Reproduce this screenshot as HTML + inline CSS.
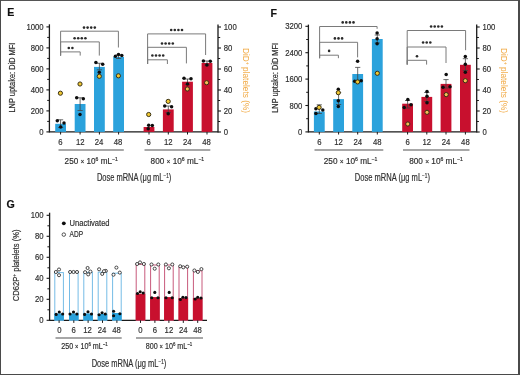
<!DOCTYPE html>
<html><head><meta charset="utf-8"><style>
html,body{margin:0;padding:0;background:#fff;}
body{width:520px;height:375px;overflow:hidden;position:relative;}
svg{display:block;font-family:"Liberation Sans", sans-serif;filter:blur(0.35px);}
text{stroke:currentColor;stroke-width:0.18px;}
text.rt{stroke-width:0;}
</style></head><body>
<svg width="520" height="375" viewBox="0 0 520 375">
<rect x="0" y="0" width="520" height="375" fill="#fff"/>
<text x="7.2" y="16.4" font-size="10.6" text-anchor="start" fill="#111" color="#111" font-weight="bold">E</text>
<text x="270.6" y="16.8" font-size="10.6" text-anchor="start" fill="#111" color="#111" font-weight="bold">F</text>
<text x="6.6" y="208.1" font-size="10.6" text-anchor="start" fill="#111" color="#111" font-weight="bold">G</text>
<line x1="49.4" y1="24.3" x2="49.4" y2="132.5" stroke="#1a1a1a" stroke-width="1.3"/>
<line x1="46.4" y1="131.9" x2="49.4" y2="131.9" stroke="#1a1a1a" stroke-width="1.1"/>
<text x="43.6" y="134.9" font-size="9.0" text-anchor="end" fill="#2e2e2e" color="#2e2e2e" font-weight="normal" textLength="4.3" lengthAdjust="spacingAndGlyphs">0</text>
<line x1="46.4" y1="110.9" x2="49.4" y2="110.9" stroke="#1a1a1a" stroke-width="1.1"/>
<text x="43.6" y="113.9" font-size="9.0" text-anchor="end" fill="#2e2e2e" color="#2e2e2e" font-weight="normal" textLength="12.91" lengthAdjust="spacingAndGlyphs">200</text>
<line x1="46.4" y1="89.9" x2="49.4" y2="89.9" stroke="#1a1a1a" stroke-width="1.1"/>
<text x="43.6" y="92.9" font-size="9.0" text-anchor="end" fill="#2e2e2e" color="#2e2e2e" font-weight="normal" textLength="12.91" lengthAdjust="spacingAndGlyphs">400</text>
<line x1="46.4" y1="68.9" x2="49.4" y2="68.9" stroke="#1a1a1a" stroke-width="1.1"/>
<text x="43.6" y="71.9" font-size="9.0" text-anchor="end" fill="#2e2e2e" color="#2e2e2e" font-weight="normal" textLength="12.91" lengthAdjust="spacingAndGlyphs">600</text>
<line x1="46.4" y1="47.900000000000006" x2="49.4" y2="47.900000000000006" stroke="#1a1a1a" stroke-width="1.1"/>
<text x="43.6" y="50.9" font-size="9.0" text-anchor="end" fill="#2e2e2e" color="#2e2e2e" font-weight="normal" textLength="12.91" lengthAdjust="spacingAndGlyphs">800</text>
<line x1="46.4" y1="26.900000000000006" x2="49.4" y2="26.900000000000006" stroke="#1a1a1a" stroke-width="1.1"/>
<text x="43.6" y="29.9" font-size="9.0" text-anchor="end" fill="#2e2e2e" color="#2e2e2e" font-weight="normal" textLength="17.22" lengthAdjust="spacingAndGlyphs">1000</text>
<line x1="47.199999999999996" y1="121.4" x2="49.4" y2="121.4" stroke="#1a1a1a" stroke-width="1.0"/>
<line x1="47.199999999999996" y1="100.4" x2="49.4" y2="100.4" stroke="#1a1a1a" stroke-width="1.0"/>
<line x1="47.199999999999996" y1="79.4" x2="49.4" y2="79.4" stroke="#1a1a1a" stroke-width="1.0"/>
<line x1="47.199999999999996" y1="58.400000000000006" x2="49.4" y2="58.400000000000006" stroke="#1a1a1a" stroke-width="1.0"/>
<line x1="47.199999999999996" y1="37.400000000000006" x2="49.4" y2="37.400000000000006" stroke="#1a1a1a" stroke-width="1.0"/>
<line x1="218.0" y1="24.5" x2="218.0" y2="132.5" stroke="#1a1a1a" stroke-width="1.3"/>
<line x1="218.0" y1="132.0" x2="221.0" y2="132.0" stroke="#1a1a1a" stroke-width="1.1"/>
<text x="223.8" y="135.0" font-size="9.0" text-anchor="start" fill="#2e2e2e" color="#2e2e2e" font-weight="normal" textLength="4.3" lengthAdjust="spacingAndGlyphs">0</text>
<line x1="218.0" y1="111.0" x2="221.0" y2="111.0" stroke="#1a1a1a" stroke-width="1.1"/>
<text x="223.8" y="114.0" font-size="9.0" text-anchor="start" fill="#2e2e2e" color="#2e2e2e" font-weight="normal" textLength="8.61" lengthAdjust="spacingAndGlyphs">20</text>
<line x1="218.0" y1="90.0" x2="221.0" y2="90.0" stroke="#1a1a1a" stroke-width="1.1"/>
<text x="223.8" y="93.0" font-size="9.0" text-anchor="start" fill="#2e2e2e" color="#2e2e2e" font-weight="normal" textLength="8.61" lengthAdjust="spacingAndGlyphs">40</text>
<line x1="218.0" y1="69.0" x2="221.0" y2="69.0" stroke="#1a1a1a" stroke-width="1.1"/>
<text x="223.8" y="72.0" font-size="9.0" text-anchor="start" fill="#2e2e2e" color="#2e2e2e" font-weight="normal" textLength="8.61" lengthAdjust="spacingAndGlyphs">60</text>
<line x1="218.0" y1="48.0" x2="221.0" y2="48.0" stroke="#1a1a1a" stroke-width="1.1"/>
<text x="223.8" y="51.0" font-size="9.0" text-anchor="start" fill="#2e2e2e" color="#2e2e2e" font-weight="normal" textLength="8.61" lengthAdjust="spacingAndGlyphs">80</text>
<line x1="218.0" y1="27.0" x2="221.0" y2="27.0" stroke="#1a1a1a" stroke-width="1.1"/>
<text x="223.8" y="30.0" font-size="9.0" text-anchor="start" fill="#2e2e2e" color="#2e2e2e" font-weight="normal" textLength="12.91" lengthAdjust="spacingAndGlyphs">100</text>
<line x1="218.0" y1="121.5" x2="220.2" y2="121.5" stroke="#1a1a1a" stroke-width="1.0"/>
<line x1="218.0" y1="100.5" x2="220.2" y2="100.5" stroke="#1a1a1a" stroke-width="1.0"/>
<line x1="218.0" y1="79.5" x2="220.2" y2="79.5" stroke="#1a1a1a" stroke-width="1.0"/>
<line x1="218.0" y1="58.5" x2="220.2" y2="58.5" stroke="#1a1a1a" stroke-width="1.0"/>
<line x1="218.0" y1="37.5" x2="220.2" y2="37.5" stroke="#1a1a1a" stroke-width="1.0"/>
<line x1="49.4" y1="131.9" x2="218.0" y2="131.9" stroke="#1a1a1a" stroke-width="1.3"/>
<rect x="55.2" y="123.8" width="10.8" height="8.1" fill="#2ba2dc" stroke="none" stroke-width="0"/>
<rect x="74.7" y="104.0" width="10.8" height="27.9" fill="#2ba2dc" stroke="none" stroke-width="0"/>
<rect x="94.0" y="66.9" width="10.8" height="65.0" fill="#2ba2dc" stroke="none" stroke-width="0"/>
<rect x="113.2" y="57.0" width="10.8" height="74.9" fill="#2ba2dc" stroke="none" stroke-width="0"/>
<rect x="143.6" y="127.0" width="10.8" height="4.9" fill="#c8102e" stroke="none" stroke-width="0"/>
<rect x="162.9" y="109.4" width="10.8" height="22.5" fill="#c8102e" stroke="none" stroke-width="0"/>
<rect x="182.1" y="81.7" width="10.8" height="50.2" fill="#c8102e" stroke="none" stroke-width="0"/>
<rect x="201.6" y="63.0" width="10.8" height="68.9" fill="#c8102e" stroke="none" stroke-width="0"/>
<line x1="60.6" y1="119.8" x2="60.6" y2="127.5" stroke="#444" stroke-width="0.8"/>
<line x1="58.0" y1="119.8" x2="63.2" y2="119.8" stroke="#444" stroke-width="0.8"/>
<line x1="58.0" y1="127.5" x2="63.2" y2="127.5" stroke="#444" stroke-width="0.8"/>
<circle cx="57.3" cy="120.7" r="1.75" fill="#0d0d0d" stroke="none" stroke-width="0"/>
<circle cx="64.0" cy="123.0" r="1.75" fill="#0d0d0d" stroke="none" stroke-width="0"/>
<circle cx="60.7" cy="127.0" r="1.75" fill="#0d0d0d" stroke="none" stroke-width="0"/>
<circle cx="60.4" cy="93.2" r="2.1" fill="#f1c832" stroke="#3a3214" stroke-width="1.0"/>
<line x1="60.6" y1="131.9" x2="60.6" y2="134.5" stroke="#1a1a1a" stroke-width="1"/>
<line x1="80.1" y1="97.8" x2="80.1" y2="110.5" stroke="#444" stroke-width="0.8"/>
<line x1="77.5" y1="97.8" x2="82.69999999999999" y2="97.8" stroke="#444" stroke-width="0.8"/>
<line x1="77.5" y1="110.5" x2="82.69999999999999" y2="110.5" stroke="#444" stroke-width="0.8"/>
<circle cx="76.7" cy="97.7" r="1.75" fill="#0d0d0d" stroke="none" stroke-width="0"/>
<circle cx="83.3" cy="98.7" r="1.75" fill="#0d0d0d" stroke="none" stroke-width="0"/>
<circle cx="80.0" cy="114.6" r="1.75" fill="#0d0d0d" stroke="none" stroke-width="0"/>
<circle cx="80.0" cy="84.0" r="2.1" fill="#f1c832" stroke="#3a3214" stroke-width="1.0"/>
<line x1="80.1" y1="131.9" x2="80.1" y2="134.5" stroke="#1a1a1a" stroke-width="1"/>
<line x1="99.4" y1="63.3" x2="99.4" y2="69.8" stroke="#444" stroke-width="0.8"/>
<line x1="96.80000000000001" y1="63.3" x2="102.0" y2="63.3" stroke="#444" stroke-width="0.8"/>
<line x1="96.80000000000001" y1="69.8" x2="102.0" y2="69.8" stroke="#444" stroke-width="0.8"/>
<circle cx="95.9" cy="62.5" r="1.75" fill="#0d0d0d" stroke="none" stroke-width="0"/>
<circle cx="102.7" cy="64.3" r="1.75" fill="#0d0d0d" stroke="none" stroke-width="0"/>
<circle cx="99.3" cy="72.2" r="1.75" fill="#0d0d0d" stroke="none" stroke-width="0"/>
<circle cx="99.3" cy="76.3" r="2.1" fill="#f1c832" stroke="#3a3214" stroke-width="1.0"/>
<line x1="99.4" y1="131.9" x2="99.4" y2="134.5" stroke="#1a1a1a" stroke-width="1"/>
<line x1="118.6" y1="55.0" x2="118.6" y2="58.5" stroke="#444" stroke-width="0.8"/>
<line x1="116.0" y1="55.0" x2="121.19999999999999" y2="55.0" stroke="#444" stroke-width="0.8"/>
<line x1="116.0" y1="58.5" x2="121.19999999999999" y2="58.5" stroke="#444" stroke-width="0.8"/>
<circle cx="115.4" cy="56.3" r="1.75" fill="#0d0d0d" stroke="none" stroke-width="0"/>
<circle cx="118.5" cy="54.6" r="1.75" fill="#0d0d0d" stroke="none" stroke-width="0"/>
<circle cx="121.8" cy="55.4" r="1.75" fill="#0d0d0d" stroke="none" stroke-width="0"/>
<circle cx="118.4" cy="75.8" r="2.1" fill="#f1c832" stroke="#3a3214" stroke-width="1.0"/>
<line x1="118.6" y1="131.9" x2="118.6" y2="134.5" stroke="#1a1a1a" stroke-width="1"/>
<circle cx="148.2" cy="128.8" r="1.75" fill="#0d0d0d" stroke="none" stroke-width="0"/>
<circle cx="148.7" cy="125.3" r="1.75" fill="#0d0d0d" stroke="none" stroke-width="0"/>
<circle cx="152.3" cy="125.4" r="1.75" fill="#0d0d0d" stroke="none" stroke-width="0"/>
<circle cx="148.7" cy="114.5" r="2.1" fill="#f1c832" stroke="#3a3214" stroke-width="1.0"/>
<line x1="149.0" y1="131.9" x2="149.0" y2="134.5" stroke="#1a1a1a" stroke-width="1"/>
<line x1="168.3" y1="106.0" x2="168.3" y2="112.5" stroke="#444" stroke-width="0.8"/>
<line x1="165.70000000000002" y1="106.0" x2="170.9" y2="106.0" stroke="#444" stroke-width="0.8"/>
<line x1="165.70000000000002" y1="112.5" x2="170.9" y2="112.5" stroke="#444" stroke-width="0.8"/>
<circle cx="164.7" cy="106.0" r="1.75" fill="#0d0d0d" stroke="none" stroke-width="0"/>
<circle cx="171.6" cy="106.7" r="1.75" fill="#0d0d0d" stroke="none" stroke-width="0"/>
<circle cx="168.2" cy="113.7" r="1.75" fill="#0d0d0d" stroke="none" stroke-width="0"/>
<circle cx="168.2" cy="101.4" r="2.1" fill="#f1c832" stroke="#3a3214" stroke-width="1.0"/>
<line x1="168.3" y1="131.9" x2="168.3" y2="134.5" stroke="#1a1a1a" stroke-width="1"/>
<line x1="187.5" y1="79.0" x2="187.5" y2="84.5" stroke="#444" stroke-width="0.8"/>
<line x1="184.9" y1="79.0" x2="190.1" y2="79.0" stroke="#444" stroke-width="0.8"/>
<line x1="184.9" y1="84.5" x2="190.1" y2="84.5" stroke="#444" stroke-width="0.8"/>
<circle cx="184.0" cy="78.3" r="1.75" fill="#0d0d0d" stroke="none" stroke-width="0"/>
<circle cx="191.0" cy="78.7" r="1.75" fill="#0d0d0d" stroke="none" stroke-width="0"/>
<circle cx="187.5" cy="84.0" r="1.75" fill="#0d0d0d" stroke="none" stroke-width="0"/>
<circle cx="187.3" cy="89.0" r="2.1" fill="#f6bd55" stroke="#3a3214" stroke-width="1.0"/>
<line x1="187.5" y1="131.9" x2="187.5" y2="134.5" stroke="#1a1a1a" stroke-width="1"/>
<line x1="207.0" y1="61.0" x2="207.0" y2="65.0" stroke="#444" stroke-width="0.8"/>
<line x1="204.4" y1="61.0" x2="209.6" y2="61.0" stroke="#444" stroke-width="0.8"/>
<line x1="204.4" y1="65.0" x2="209.6" y2="65.0" stroke="#444" stroke-width="0.8"/>
<circle cx="203.4" cy="61.0" r="1.75" fill="#0d0d0d" stroke="none" stroke-width="0"/>
<circle cx="210.3" cy="61.3" r="1.75" fill="#0d0d0d" stroke="none" stroke-width="0"/>
<circle cx="206.9" cy="65.0" r="1.75" fill="#0d0d0d" stroke="none" stroke-width="0"/>
<circle cx="206.6" cy="82.7" r="2.1" fill="#f6bd55" stroke="#3a3214" stroke-width="1.0"/>
<line x1="207.0" y1="131.9" x2="207.0" y2="134.5" stroke="#1a1a1a" stroke-width="1"/>
<polyline points="60.6,55.6 60.6,31.2 118.4,31.2 118.4,47.5" fill="none" stroke="#7a7a7a" stroke-width="1"/>
<polyline points="60.6,55.6 60.6,41.9 99.3,41.9 99.3,55.6" fill="none" stroke="#7a7a7a" stroke-width="1"/>
<polyline points="60.6,55.6 60.6,51.9 80.2,51.9 80.2,55.6" fill="none" stroke="#7a7a7a" stroke-width="1"/>
<circle cx="84.0" cy="27.6" r="1.3" fill="#2a2a2a" stroke="none" stroke-width="0"/>
<circle cx="87.6" cy="27.6" r="1.3" fill="#2a2a2a" stroke="none" stroke-width="0"/>
<circle cx="91.2" cy="27.6" r="1.3" fill="#2a2a2a" stroke="none" stroke-width="0"/>
<circle cx="94.8" cy="27.6" r="1.3" fill="#2a2a2a" stroke="none" stroke-width="0"/>
<circle cx="74.6" cy="38.2" r="1.3" fill="#2a2a2a" stroke="none" stroke-width="0"/>
<circle cx="78.2" cy="38.2" r="1.3" fill="#2a2a2a" stroke="none" stroke-width="0"/>
<circle cx="81.8" cy="38.2" r="1.3" fill="#2a2a2a" stroke="none" stroke-width="0"/>
<circle cx="85.4" cy="38.2" r="1.3" fill="#2a2a2a" stroke="none" stroke-width="0"/>
<circle cx="68.8" cy="48.0" r="1.3" fill="#2a2a2a" stroke="none" stroke-width="0"/>
<circle cx="72.4" cy="48.0" r="1.3" fill="#2a2a2a" stroke="none" stroke-width="0"/>
<polyline points="147.6,64.0 147.6,33.9 205.6,33.9 205.6,55.0" fill="none" stroke="#7a7a7a" stroke-width="1"/>
<polyline points="147.6,64.0 147.6,47.3 186.4,47.3 186.4,63.4" fill="none" stroke="#7a7a7a" stroke-width="1"/>
<polyline points="147.6,64.0 147.6,59.8 167.4,59.8 167.4,64.0" fill="none" stroke="#7a7a7a" stroke-width="1"/>
<circle cx="171.2" cy="30.0" r="1.3" fill="#2a2a2a" stroke="none" stroke-width="0"/>
<circle cx="174.8" cy="30.0" r="1.3" fill="#2a2a2a" stroke="none" stroke-width="0"/>
<circle cx="178.4" cy="30.0" r="1.3" fill="#2a2a2a" stroke="none" stroke-width="0"/>
<circle cx="182.0" cy="30.0" r="1.3" fill="#2a2a2a" stroke="none" stroke-width="0"/>
<circle cx="162.0" cy="43.5" r="1.3" fill="#2a2a2a" stroke="none" stroke-width="0"/>
<circle cx="165.6" cy="43.5" r="1.3" fill="#2a2a2a" stroke="none" stroke-width="0"/>
<circle cx="169.2" cy="43.5" r="1.3" fill="#2a2a2a" stroke="none" stroke-width="0"/>
<circle cx="172.8" cy="43.5" r="1.3" fill="#2a2a2a" stroke="none" stroke-width="0"/>
<circle cx="152.4" cy="55.5" r="1.3" fill="#2a2a2a" stroke="none" stroke-width="0"/>
<circle cx="156.0" cy="55.5" r="1.3" fill="#2a2a2a" stroke="none" stroke-width="0"/>
<circle cx="159.6" cy="55.5" r="1.3" fill="#2a2a2a" stroke="none" stroke-width="0"/>
<circle cx="163.2" cy="55.5" r="1.3" fill="#2a2a2a" stroke="none" stroke-width="0"/>
<text x="60.5" y="145.2" font-size="9.0" text-anchor="middle" fill="#2e2e2e" color="#2e2e2e" font-weight="normal" textLength="4.3" lengthAdjust="spacingAndGlyphs">6</text>
<text x="80.2" y="145.2" font-size="9.0" text-anchor="middle" fill="#2e2e2e" color="#2e2e2e" font-weight="normal" textLength="8.61" lengthAdjust="spacingAndGlyphs">12</text>
<text x="99.0" y="145.2" font-size="9.0" text-anchor="middle" fill="#2e2e2e" color="#2e2e2e" font-weight="normal" textLength="8.61" lengthAdjust="spacingAndGlyphs">24</text>
<text x="118.1" y="145.2" font-size="9.0" text-anchor="middle" fill="#2e2e2e" color="#2e2e2e" font-weight="normal" textLength="8.61" lengthAdjust="spacingAndGlyphs">48</text>
<text x="148.7" y="145.2" font-size="9.0" text-anchor="middle" fill="#2e2e2e" color="#2e2e2e" font-weight="normal" textLength="4.3" lengthAdjust="spacingAndGlyphs">6</text>
<text x="168.3" y="145.2" font-size="9.0" text-anchor="middle" fill="#2e2e2e" color="#2e2e2e" font-weight="normal" textLength="8.61" lengthAdjust="spacingAndGlyphs">12</text>
<text x="187.2" y="145.2" font-size="9.0" text-anchor="middle" fill="#2e2e2e" color="#2e2e2e" font-weight="normal" textLength="8.61" lengthAdjust="spacingAndGlyphs">24</text>
<text x="206.6" y="145.2" font-size="9.0" text-anchor="middle" fill="#2e2e2e" color="#2e2e2e" font-weight="normal" textLength="8.61" lengthAdjust="spacingAndGlyphs">48</text>
<line x1="58.5" y1="150.0" x2="123.8" y2="150.0" stroke="#8a8a8a" stroke-width="1.6"/>
<line x1="144.5" y1="150.0" x2="210.3" y2="150.0" stroke="#8a8a8a" stroke-width="1.6"/>
<text x="91.2" y="163.5" font-size="8.6" text-anchor="middle" fill="#2e2e2e" color="#2e2e2e" font-weight="normal" textLength="53.2" lengthAdjust="spacingAndGlyphs">250 <tspan font-size="80%">×</tspan> 10<tspan baseline-shift="super" font-size="62%">6</tspan> mL<tspan baseline-shift="super" font-size="62%">&#8722;1</tspan></text>
<text x="177.4" y="163.5" font-size="8.6" text-anchor="middle" fill="#2e2e2e" color="#2e2e2e" font-weight="normal" textLength="53.6" lengthAdjust="spacingAndGlyphs">800 <tspan font-size="80%">×</tspan> 10<tspan baseline-shift="super" font-size="62%">6</tspan> mL<tspan baseline-shift="super" font-size="62%">&#8722;1</tspan></text>
<text x="134.1" y="180.6" font-size="10.4" text-anchor="middle" fill="#2e2e2e" color="#2e2e2e" font-weight="normal" textLength="74.4" lengthAdjust="spacingAndGlyphs">Dose mRNA (μg mL<tspan baseline-shift="super" font-size="62%">&#8722;1</tspan>)</text>
<text x="15.2" y="77.6" font-size="8.4" text-anchor="middle" fill="#2e2e2e" color="#2e2e2e" font-weight="normal" textLength="69.9" lengthAdjust="spacingAndGlyphs" transform="rotate(-90 15.2 77.6)">LNP uptake: DiD MFI</text>
<text x="242.8" y="80.5" font-size="9.2" text-anchor="middle" fill="#f1a73e" color="#f1a73e" font-weight="normal" textLength="65" lengthAdjust="spacingAndGlyphs" transform="rotate(90 242.8 80.5)" class="rt">DiD<tspan baseline-shift="super" font-size="62%">+</tspan> platelets (%)</text>
<line x1="308.4" y1="24.6" x2="308.4" y2="132.5" stroke="#1a1a1a" stroke-width="1.3"/>
<line x1="305.4" y1="131.9" x2="308.4" y2="131.9" stroke="#1a1a1a" stroke-width="1.1"/>
<text x="302.4" y="134.9" font-size="9.0" text-anchor="end" fill="#2e2e2e" color="#2e2e2e" font-weight="normal" textLength="4.3" lengthAdjust="spacingAndGlyphs">0</text>
<line x1="305.4" y1="105.5" x2="308.4" y2="105.5" stroke="#1a1a1a" stroke-width="1.1"/>
<text x="302.4" y="108.5" font-size="9.0" text-anchor="end" fill="#2e2e2e" color="#2e2e2e" font-weight="normal" textLength="12.91" lengthAdjust="spacingAndGlyphs">800</text>
<line x1="305.4" y1="79.1" x2="308.4" y2="79.1" stroke="#1a1a1a" stroke-width="1.1"/>
<text x="302.4" y="82.1" font-size="9.0" text-anchor="end" fill="#2e2e2e" color="#2e2e2e" font-weight="normal" textLength="17.22" lengthAdjust="spacingAndGlyphs">1600</text>
<line x1="305.4" y1="52.7" x2="308.4" y2="52.7" stroke="#1a1a1a" stroke-width="1.1"/>
<text x="302.4" y="55.7" font-size="9.0" text-anchor="end" fill="#2e2e2e" color="#2e2e2e" font-weight="normal" textLength="17.22" lengthAdjust="spacingAndGlyphs">2400</text>
<line x1="305.4" y1="26.299999999999997" x2="308.4" y2="26.299999999999997" stroke="#1a1a1a" stroke-width="1.1"/>
<text x="302.4" y="29.3" font-size="9.0" text-anchor="end" fill="#2e2e2e" color="#2e2e2e" font-weight="normal" textLength="17.22" lengthAdjust="spacingAndGlyphs">3200</text>
<line x1="306.2" y1="118.7" x2="308.4" y2="118.7" stroke="#1a1a1a" stroke-width="1.0"/>
<line x1="306.2" y1="92.30000000000001" x2="308.4" y2="92.30000000000001" stroke="#1a1a1a" stroke-width="1.0"/>
<line x1="306.2" y1="65.9" x2="308.4" y2="65.9" stroke="#1a1a1a" stroke-width="1.0"/>
<line x1="306.2" y1="39.5" x2="308.4" y2="39.5" stroke="#1a1a1a" stroke-width="1.0"/>
<line x1="476.7" y1="24.5" x2="476.7" y2="132.5" stroke="#1a1a1a" stroke-width="1.3"/>
<line x1="476.7" y1="132.0" x2="479.7" y2="132.0" stroke="#1a1a1a" stroke-width="1.1"/>
<text x="482.4" y="135.0" font-size="9.0" text-anchor="start" fill="#2e2e2e" color="#2e2e2e" font-weight="normal" textLength="4.3" lengthAdjust="spacingAndGlyphs">0</text>
<line x1="476.7" y1="111.0" x2="479.7" y2="111.0" stroke="#1a1a1a" stroke-width="1.1"/>
<text x="482.4" y="114.0" font-size="9.0" text-anchor="start" fill="#2e2e2e" color="#2e2e2e" font-weight="normal" textLength="8.61" lengthAdjust="spacingAndGlyphs">20</text>
<line x1="476.7" y1="90.0" x2="479.7" y2="90.0" stroke="#1a1a1a" stroke-width="1.1"/>
<text x="482.4" y="93.0" font-size="9.0" text-anchor="start" fill="#2e2e2e" color="#2e2e2e" font-weight="normal" textLength="8.61" lengthAdjust="spacingAndGlyphs">40</text>
<line x1="476.7" y1="69.0" x2="479.7" y2="69.0" stroke="#1a1a1a" stroke-width="1.1"/>
<text x="482.4" y="72.0" font-size="9.0" text-anchor="start" fill="#2e2e2e" color="#2e2e2e" font-weight="normal" textLength="8.61" lengthAdjust="spacingAndGlyphs">60</text>
<line x1="476.7" y1="48.0" x2="479.7" y2="48.0" stroke="#1a1a1a" stroke-width="1.1"/>
<text x="482.4" y="51.0" font-size="9.0" text-anchor="start" fill="#2e2e2e" color="#2e2e2e" font-weight="normal" textLength="8.61" lengthAdjust="spacingAndGlyphs">80</text>
<line x1="476.7" y1="27.0" x2="479.7" y2="27.0" stroke="#1a1a1a" stroke-width="1.1"/>
<text x="482.4" y="30.0" font-size="9.0" text-anchor="start" fill="#2e2e2e" color="#2e2e2e" font-weight="normal" textLength="12.91" lengthAdjust="spacingAndGlyphs">100</text>
<line x1="476.7" y1="121.5" x2="478.9" y2="121.5" stroke="#1a1a1a" stroke-width="1.0"/>
<line x1="476.7" y1="100.5" x2="478.9" y2="100.5" stroke="#1a1a1a" stroke-width="1.0"/>
<line x1="476.7" y1="79.5" x2="478.9" y2="79.5" stroke="#1a1a1a" stroke-width="1.0"/>
<line x1="476.7" y1="58.5" x2="478.9" y2="58.5" stroke="#1a1a1a" stroke-width="1.0"/>
<line x1="476.7" y1="37.5" x2="478.9" y2="37.5" stroke="#1a1a1a" stroke-width="1.0"/>
<line x1="308.4" y1="131.9" x2="476.7" y2="131.9" stroke="#1a1a1a" stroke-width="1.3"/>
<rect x="313.9" y="111.5" width="10.8" height="20.4" fill="#2ba2dc" stroke="none" stroke-width="0"/>
<rect x="333.2" y="99.1" width="10.8" height="32.8" fill="#2ba2dc" stroke="none" stroke-width="0"/>
<rect x="352.3" y="74.0" width="10.8" height="57.9" fill="#2ba2dc" stroke="none" stroke-width="0"/>
<rect x="371.9" y="39.0" width="10.8" height="92.9" fill="#2ba2dc" stroke="none" stroke-width="0"/>
<rect x="402.2" y="103.7" width="10.8" height="28.2" fill="#c8102e" stroke="none" stroke-width="0"/>
<rect x="421.4" y="96.9" width="10.8" height="35.0" fill="#c8102e" stroke="none" stroke-width="0"/>
<rect x="440.6" y="83.9" width="10.8" height="48.0" fill="#c8102e" stroke="none" stroke-width="0"/>
<rect x="460.0" y="64.8" width="10.8" height="67.1" fill="#c8102e" stroke="none" stroke-width="0"/>
<line x1="319.3" y1="104.8" x2="319.3" y2="113.5" stroke="#444" stroke-width="0.8"/>
<line x1="316.7" y1="104.8" x2="321.90000000000003" y2="104.8" stroke="#444" stroke-width="0.8"/>
<line x1="316.7" y1="113.5" x2="321.90000000000003" y2="113.5" stroke="#444" stroke-width="0.8"/>
<circle cx="315.9" cy="108.7" r="1.75" fill="#0d0d0d" stroke="none" stroke-width="0"/>
<circle cx="322.8" cy="110.0" r="1.75" fill="#0d0d0d" stroke="none" stroke-width="0"/>
<circle cx="315.9" cy="113.5" r="1.75" fill="#0d0d0d" stroke="none" stroke-width="0"/>
<circle cx="319.1" cy="107.4" r="2.1" fill="#f1c832" stroke="#3a3214" stroke-width="1.0"/>
<line x1="319.3" y1="131.9" x2="319.3" y2="134.5" stroke="#1a1a1a" stroke-width="1"/>
<line x1="338.6" y1="92.5" x2="338.6" y2="104.5" stroke="#444" stroke-width="0.8"/>
<line x1="336.0" y1="92.5" x2="341.20000000000005" y2="92.5" stroke="#444" stroke-width="0.8"/>
<line x1="336.0" y1="104.5" x2="341.20000000000005" y2="104.5" stroke="#444" stroke-width="0.8"/>
<circle cx="338.3" cy="89.3" r="1.75" fill="#0d0d0d" stroke="none" stroke-width="0"/>
<circle cx="338.3" cy="100.7" r="1.75" fill="#0d0d0d" stroke="none" stroke-width="0"/>
<circle cx="338.3" cy="106.5" r="1.75" fill="#0d0d0d" stroke="none" stroke-width="0"/>
<circle cx="338.3" cy="92.7" r="2.1" fill="#f1c832" stroke="#3a3214" stroke-width="1.0"/>
<line x1="338.6" y1="131.9" x2="338.6" y2="134.5" stroke="#1a1a1a" stroke-width="1"/>
<line x1="357.7" y1="67.4" x2="357.7" y2="80.5" stroke="#444" stroke-width="0.8"/>
<line x1="355.09999999999997" y1="67.4" x2="360.3" y2="67.4" stroke="#444" stroke-width="0.8"/>
<line x1="355.09999999999997" y1="80.5" x2="360.3" y2="80.5" stroke="#444" stroke-width="0.8"/>
<circle cx="357.6" cy="61.3" r="1.75" fill="#0d0d0d" stroke="none" stroke-width="0"/>
<circle cx="354.7" cy="81.2" r="1.75" fill="#0d0d0d" stroke="none" stroke-width="0"/>
<circle cx="361.2" cy="80.7" r="1.75" fill="#0d0d0d" stroke="none" stroke-width="0"/>
<circle cx="357.6" cy="81.9" r="2.1" fill="#f1c832" stroke="#3a3214" stroke-width="1.0"/>
<line x1="357.7" y1="131.9" x2="357.7" y2="134.5" stroke="#1a1a1a" stroke-width="1"/>
<line x1="377.3" y1="35.0" x2="377.3" y2="43.0" stroke="#444" stroke-width="0.8"/>
<line x1="374.7" y1="35.0" x2="379.90000000000003" y2="35.0" stroke="#444" stroke-width="0.8"/>
<line x1="374.7" y1="43.0" x2="379.90000000000003" y2="43.0" stroke="#444" stroke-width="0.8"/>
<circle cx="377.1" cy="32.9" r="1.75" fill="#0d0d0d" stroke="none" stroke-width="0"/>
<circle cx="377.1" cy="38.7" r="1.75" fill="#0d0d0d" stroke="none" stroke-width="0"/>
<circle cx="377.1" cy="43.8" r="1.75" fill="#0d0d0d" stroke="none" stroke-width="0"/>
<circle cx="377.3" cy="73.3" r="2.1" fill="#f1c832" stroke="#3a3214" stroke-width="1.0"/>
<line x1="377.3" y1="131.9" x2="377.3" y2="134.5" stroke="#1a1a1a" stroke-width="1"/>
<line x1="407.6" y1="100.5" x2="407.6" y2="108.0" stroke="#444" stroke-width="0.8"/>
<line x1="405.0" y1="100.5" x2="410.20000000000005" y2="100.5" stroke="#444" stroke-width="0.8"/>
<line x1="405.0" y1="108.0" x2="410.20000000000005" y2="108.0" stroke="#444" stroke-width="0.8"/>
<circle cx="407.8" cy="99.5" r="1.75" fill="#0d0d0d" stroke="none" stroke-width="0"/>
<circle cx="404.2" cy="107.4" r="1.75" fill="#0d0d0d" stroke="none" stroke-width="0"/>
<circle cx="411.0" cy="104.8" r="1.75" fill="#0d0d0d" stroke="none" stroke-width="0"/>
<circle cx="407.8" cy="124.0" r="2.1" fill="#f6bd55" stroke="#3a3214" stroke-width="1.0"/>
<line x1="407.6" y1="131.9" x2="407.6" y2="134.5" stroke="#1a1a1a" stroke-width="1"/>
<line x1="426.8" y1="92.5" x2="426.8" y2="101.5" stroke="#444" stroke-width="0.8"/>
<line x1="424.2" y1="92.5" x2="429.40000000000003" y2="92.5" stroke="#444" stroke-width="0.8"/>
<line x1="424.2" y1="101.5" x2="429.40000000000003" y2="101.5" stroke="#444" stroke-width="0.8"/>
<circle cx="427.0" cy="91.6" r="1.75" fill="#0d0d0d" stroke="none" stroke-width="0"/>
<circle cx="427.0" cy="96.3" r="1.75" fill="#0d0d0d" stroke="none" stroke-width="0"/>
<circle cx="427.0" cy="102.7" r="1.75" fill="#0d0d0d" stroke="none" stroke-width="0"/>
<circle cx="427.0" cy="112.3" r="2.1" fill="#f6bd55" stroke="#3a3214" stroke-width="1.0"/>
<line x1="426.8" y1="131.9" x2="426.8" y2="134.5" stroke="#1a1a1a" stroke-width="1"/>
<line x1="446.0" y1="79.6" x2="446.0" y2="88.0" stroke="#444" stroke-width="0.8"/>
<line x1="443.4" y1="79.6" x2="448.6" y2="79.6" stroke="#444" stroke-width="0.8"/>
<line x1="443.4" y1="88.0" x2="448.6" y2="88.0" stroke="#444" stroke-width="0.8"/>
<circle cx="446.2" cy="74.5" r="1.75" fill="#0d0d0d" stroke="none" stroke-width="0"/>
<circle cx="443.0" cy="87.3" r="1.75" fill="#0d0d0d" stroke="none" stroke-width="0"/>
<circle cx="450.0" cy="86.7" r="1.75" fill="#0d0d0d" stroke="none" stroke-width="0"/>
<circle cx="446.2" cy="94.6" r="2.1" fill="#f6bd55" stroke="#3a3214" stroke-width="1.0"/>
<line x1="446.0" y1="131.9" x2="446.0" y2="134.5" stroke="#1a1a1a" stroke-width="1"/>
<line x1="465.4" y1="58.7" x2="465.4" y2="70.5" stroke="#444" stroke-width="0.8"/>
<line x1="462.79999999999995" y1="58.7" x2="468.0" y2="58.7" stroke="#444" stroke-width="0.8"/>
<line x1="462.79999999999995" y1="70.5" x2="468.0" y2="70.5" stroke="#444" stroke-width="0.8"/>
<circle cx="465.3" cy="56.6" r="1.75" fill="#0d0d0d" stroke="none" stroke-width="0"/>
<circle cx="465.3" cy="64.3" r="1.75" fill="#0d0d0d" stroke="none" stroke-width="0"/>
<circle cx="465.3" cy="72.3" r="1.75" fill="#0d0d0d" stroke="none" stroke-width="0"/>
<circle cx="465.3" cy="80.7" r="2.1" fill="#f6bd55" stroke="#3a3214" stroke-width="1.0"/>
<line x1="465.4" y1="131.9" x2="465.4" y2="134.5" stroke="#1a1a1a" stroke-width="1"/>
<polyline points="319.6,58.2 319.6,26.5 377.1,26.5 377.1,28.8" fill="none" stroke="#7a7a7a" stroke-width="1"/>
<polyline points="319.6,58.2 319.6,42.3 357.6,42.3 357.6,57.4" fill="none" stroke="#7a7a7a" stroke-width="1"/>
<polyline points="319.6,58.2 319.6,55.2 338.4,55.2 338.4,58.2" fill="none" stroke="#7a7a7a" stroke-width="1"/>
<circle cx="342.7" cy="22.4" r="1.3" fill="#2a2a2a" stroke="none" stroke-width="0"/>
<circle cx="346.3" cy="22.4" r="1.3" fill="#2a2a2a" stroke="none" stroke-width="0"/>
<circle cx="349.9" cy="22.4" r="1.3" fill="#2a2a2a" stroke="none" stroke-width="0"/>
<circle cx="353.5" cy="22.4" r="1.3" fill="#2a2a2a" stroke="none" stroke-width="0"/>
<circle cx="334.9" cy="38.4" r="1.3" fill="#2a2a2a" stroke="none" stroke-width="0"/>
<circle cx="338.5" cy="38.4" r="1.3" fill="#2a2a2a" stroke="none" stroke-width="0"/>
<circle cx="342.1" cy="38.4" r="1.3" fill="#2a2a2a" stroke="none" stroke-width="0"/>
<circle cx="329.1" cy="50.9" r="1.3" fill="#2a2a2a" stroke="none" stroke-width="0"/>
<polyline points="407.2,64.6 407.2,30.5 465.6,30.5 465.6,50.2" fill="none" stroke="#7a7a7a" stroke-width="1"/>
<polyline points="407.2,64.6 407.2,47.0 446.0,47.0 446.0,63.0" fill="none" stroke="#7a7a7a" stroke-width="1"/>
<polyline points="407.2,64.6 407.2,60.3 426.6,60.3 426.6,64.6" fill="none" stroke="#7a7a7a" stroke-width="1"/>
<circle cx="431.1" cy="26.5" r="1.3" fill="#2a2a2a" stroke="none" stroke-width="0"/>
<circle cx="434.7" cy="26.5" r="1.3" fill="#2a2a2a" stroke="none" stroke-width="0"/>
<circle cx="438.3" cy="26.5" r="1.3" fill="#2a2a2a" stroke="none" stroke-width="0"/>
<circle cx="441.9" cy="26.5" r="1.3" fill="#2a2a2a" stroke="none" stroke-width="0"/>
<circle cx="423.1" cy="42.5" r="1.3" fill="#2a2a2a" stroke="none" stroke-width="0"/>
<circle cx="426.7" cy="42.5" r="1.3" fill="#2a2a2a" stroke="none" stroke-width="0"/>
<circle cx="430.3" cy="42.5" r="1.3" fill="#2a2a2a" stroke="none" stroke-width="0"/>
<circle cx="417.0" cy="56.3" r="1.3" fill="#2a2a2a" stroke="none" stroke-width="0"/>
<text x="319.3" y="145.2" font-size="9.0" text-anchor="middle" fill="#2e2e2e" color="#2e2e2e" font-weight="normal" textLength="4.3" lengthAdjust="spacingAndGlyphs">6</text>
<text x="338.6" y="145.2" font-size="9.0" text-anchor="middle" fill="#2e2e2e" color="#2e2e2e" font-weight="normal" textLength="8.61" lengthAdjust="spacingAndGlyphs">12</text>
<text x="357.7" y="145.2" font-size="9.0" text-anchor="middle" fill="#2e2e2e" color="#2e2e2e" font-weight="normal" textLength="8.61" lengthAdjust="spacingAndGlyphs">24</text>
<text x="377.3" y="145.2" font-size="9.0" text-anchor="middle" fill="#2e2e2e" color="#2e2e2e" font-weight="normal" textLength="8.61" lengthAdjust="spacingAndGlyphs">48</text>
<text x="407.6" y="145.2" font-size="9.0" text-anchor="middle" fill="#2e2e2e" color="#2e2e2e" font-weight="normal" textLength="4.3" lengthAdjust="spacingAndGlyphs">6</text>
<text x="426.8" y="145.2" font-size="9.0" text-anchor="middle" fill="#2e2e2e" color="#2e2e2e" font-weight="normal" textLength="8.61" lengthAdjust="spacingAndGlyphs">12</text>
<text x="446.0" y="145.2" font-size="9.0" text-anchor="middle" fill="#2e2e2e" color="#2e2e2e" font-weight="normal" textLength="8.61" lengthAdjust="spacingAndGlyphs">24</text>
<text x="465.4" y="145.2" font-size="9.0" text-anchor="middle" fill="#2e2e2e" color="#2e2e2e" font-weight="normal" textLength="8.61" lengthAdjust="spacingAndGlyphs">48</text>
<line x1="314.5" y1="150.0" x2="383.3" y2="150.0" stroke="#8a8a8a" stroke-width="1.6"/>
<line x1="403.0" y1="150.0" x2="469.5" y2="150.0" stroke="#8a8a8a" stroke-width="1.6"/>
<text x="350.6" y="163.5" font-size="8.6" text-anchor="middle" fill="#2e2e2e" color="#2e2e2e" font-weight="normal" textLength="53.6" lengthAdjust="spacingAndGlyphs">250 <tspan font-size="80%">×</tspan> 10<tspan baseline-shift="super" font-size="62%">6</tspan> mL<tspan baseline-shift="super" font-size="62%">&#8722;1</tspan></text>
<text x="436.0" y="163.5" font-size="8.6" text-anchor="middle" fill="#2e2e2e" color="#2e2e2e" font-weight="normal" textLength="53.6" lengthAdjust="spacingAndGlyphs">800 <tspan font-size="80%">×</tspan> 10<tspan baseline-shift="super" font-size="62%">6</tspan> mL<tspan baseline-shift="super" font-size="62%">&#8722;1</tspan></text>
<text x="392.4" y="180.6" font-size="10.4" text-anchor="middle" fill="#2e2e2e" color="#2e2e2e" font-weight="normal" textLength="75.1" lengthAdjust="spacingAndGlyphs">Dose mRNA (μg mL<tspan baseline-shift="super" font-size="62%">&#8722;1</tspan>)</text>
<text x="278.4" y="77.8" font-size="8.4" text-anchor="middle" fill="#2e2e2e" color="#2e2e2e" font-weight="normal" textLength="69.9" lengthAdjust="spacingAndGlyphs" transform="rotate(-90 278.4 77.8)">LNP uptake: DiD MFI</text>
<text x="501.2" y="80.5" font-size="9.2" text-anchor="middle" fill="#f1a73e" color="#f1a73e" font-weight="normal" textLength="65" lengthAdjust="spacingAndGlyphs" transform="rotate(90 501.2 80.5)" class="rt">DiD<tspan baseline-shift="super" font-size="62%">+</tspan> platelets (%)</text>
<line x1="49.6" y1="212.7" x2="49.6" y2="320.90000000000003" stroke="#1a1a1a" stroke-width="1.3"/>
<line x1="46.6" y1="320.3" x2="49.6" y2="320.3" stroke="#1a1a1a" stroke-width="1.1"/>
<text x="43.6" y="323.3" font-size="9.0" text-anchor="end" fill="#2e2e2e" color="#2e2e2e" font-weight="normal" textLength="4.3" lengthAdjust="spacingAndGlyphs">0</text>
<line x1="46.6" y1="299.3" x2="49.6" y2="299.3" stroke="#1a1a1a" stroke-width="1.1"/>
<text x="43.6" y="302.3" font-size="9.0" text-anchor="end" fill="#2e2e2e" color="#2e2e2e" font-weight="normal" textLength="8.61" lengthAdjust="spacingAndGlyphs">20</text>
<line x1="46.6" y1="278.3" x2="49.6" y2="278.3" stroke="#1a1a1a" stroke-width="1.1"/>
<text x="43.6" y="281.3" font-size="9.0" text-anchor="end" fill="#2e2e2e" color="#2e2e2e" font-weight="normal" textLength="8.61" lengthAdjust="spacingAndGlyphs">40</text>
<line x1="46.6" y1="257.3" x2="49.6" y2="257.3" stroke="#1a1a1a" stroke-width="1.1"/>
<text x="43.6" y="260.3" font-size="9.0" text-anchor="end" fill="#2e2e2e" color="#2e2e2e" font-weight="normal" textLength="8.61" lengthAdjust="spacingAndGlyphs">60</text>
<line x1="46.6" y1="236.3" x2="49.6" y2="236.3" stroke="#1a1a1a" stroke-width="1.1"/>
<text x="43.6" y="239.3" font-size="9.0" text-anchor="end" fill="#2e2e2e" color="#2e2e2e" font-weight="normal" textLength="8.61" lengthAdjust="spacingAndGlyphs">80</text>
<line x1="46.6" y1="215.3" x2="49.6" y2="215.3" stroke="#1a1a1a" stroke-width="1.1"/>
<text x="43.6" y="218.3" font-size="9.0" text-anchor="end" fill="#2e2e2e" color="#2e2e2e" font-weight="normal" textLength="12.91" lengthAdjust="spacingAndGlyphs">100</text>
<line x1="47.4" y1="309.8" x2="49.6" y2="309.8" stroke="#1a1a1a" stroke-width="1.0"/>
<line x1="47.4" y1="288.8" x2="49.6" y2="288.8" stroke="#1a1a1a" stroke-width="1.0"/>
<line x1="47.4" y1="267.8" x2="49.6" y2="267.8" stroke="#1a1a1a" stroke-width="1.0"/>
<line x1="47.4" y1="246.8" x2="49.6" y2="246.8" stroke="#1a1a1a" stroke-width="1.0"/>
<line x1="47.4" y1="225.8" x2="49.6" y2="225.8" stroke="#1a1a1a" stroke-width="1.0"/>
<line x1="49.6" y1="320.3" x2="207.0" y2="320.3" stroke="#1a1a1a" stroke-width="1.3"/>
<rect x="54.8" y="272.6" width="8.6" height="47.7" fill="white" stroke="#76bce6" stroke-width="1"/>
<rect x="54.3" y="313.4" width="9.6" height="6.9" fill="#2ba2dc" stroke="none" stroke-width="0"/>
<rect x="69.5" y="272.2" width="8.6" height="48.1" fill="white" stroke="#76bce6" stroke-width="1"/>
<rect x="69.0" y="313.4" width="9.6" height="6.9" fill="#2ba2dc" stroke="none" stroke-width="0"/>
<rect x="83.8" y="272.4" width="8.6" height="47.9" fill="white" stroke="#76bce6" stroke-width="1"/>
<rect x="83.3" y="313.4" width="9.6" height="6.9" fill="#2ba2dc" stroke="none" stroke-width="0"/>
<rect x="98.2" y="272.2" width="8.6" height="48.1" fill="white" stroke="#76bce6" stroke-width="1"/>
<rect x="97.7" y="314.0" width="9.6" height="6.3" fill="#2ba2dc" stroke="none" stroke-width="0"/>
<rect x="112.6" y="273.2" width="8.6" height="47.1" fill="white" stroke="#76bce6" stroke-width="1"/>
<rect x="112.1" y="313.0" width="9.6" height="7.3" fill="#2ba2dc" stroke="none" stroke-width="0"/>
<rect x="136.2" y="264.3" width="8.6" height="56.0" fill="white" stroke="#c85a7c" stroke-width="1"/>
<rect x="135.7" y="293.8" width="9.6" height="26.5" fill="#c8102e" stroke="none" stroke-width="0"/>
<rect x="150.6" y="265.0" width="8.6" height="55.3" fill="white" stroke="#c85a7c" stroke-width="1"/>
<rect x="150.1" y="297.1" width="9.6" height="23.2" fill="#c8102e" stroke="none" stroke-width="0"/>
<rect x="164.6" y="265.0" width="8.6" height="55.3" fill="white" stroke="#c85a7c" stroke-width="1"/>
<rect x="164.1" y="297.1" width="9.6" height="23.2" fill="#c8102e" stroke="none" stroke-width="0"/>
<rect x="179.0" y="267.0" width="8.6" height="53.3" fill="white" stroke="#c85a7c" stroke-width="1"/>
<rect x="178.5" y="298.1" width="9.6" height="22.2" fill="#c8102e" stroke="none" stroke-width="0"/>
<rect x="193.4" y="270.8" width="8.6" height="49.5" fill="white" stroke="#c85a7c" stroke-width="1"/>
<rect x="192.9" y="298.1" width="9.6" height="22.2" fill="#c8102e" stroke="none" stroke-width="0"/>
<circle cx="56.2" cy="314.4" r="1.55" fill="#0d0d0d" stroke="none" stroke-width="0"/>
<circle cx="59.3" cy="312.0" r="1.55" fill="#0d0d0d" stroke="none" stroke-width="0"/>
<circle cx="62.7" cy="314.0" r="1.55" fill="#0d0d0d" stroke="none" stroke-width="0"/>
<circle cx="59.0" cy="269.5" r="1.55" fill="white" stroke="#1e1e1e" stroke-width="0.8"/>
<circle cx="55.9" cy="272.0" r="1.55" fill="white" stroke="#1e1e1e" stroke-width="0.8"/>
<circle cx="59.0" cy="275.2" r="1.55" fill="white" stroke="#1e1e1e" stroke-width="0.8"/>
<line x1="59.1" y1="320.3" x2="59.1" y2="322.90000000000003" stroke="#1a1a1a" stroke-width="1"/>
<circle cx="70.0" cy="314.0" r="1.55" fill="#0d0d0d" stroke="none" stroke-width="0"/>
<circle cx="73.5" cy="312.0" r="1.55" fill="#0d0d0d" stroke="none" stroke-width="0"/>
<circle cx="76.9" cy="314.0" r="1.55" fill="#0d0d0d" stroke="none" stroke-width="0"/>
<circle cx="70.1" cy="272.0" r="1.55" fill="white" stroke="#1e1e1e" stroke-width="0.8"/>
<circle cx="73.5" cy="272.0" r="1.55" fill="white" stroke="#1e1e1e" stroke-width="0.8"/>
<circle cx="77.0" cy="272.0" r="1.55" fill="white" stroke="#1e1e1e" stroke-width="0.8"/>
<line x1="73.8" y1="320.3" x2="73.8" y2="322.90000000000003" stroke="#1a1a1a" stroke-width="1"/>
<circle cx="84.6" cy="314.4" r="1.55" fill="#0d0d0d" stroke="none" stroke-width="0"/>
<circle cx="88.0" cy="311.7" r="1.55" fill="#0d0d0d" stroke="none" stroke-width="0"/>
<circle cx="91.5" cy="314.0" r="1.55" fill="#0d0d0d" stroke="none" stroke-width="0"/>
<circle cx="87.6" cy="268.0" r="1.55" fill="white" stroke="#1e1e1e" stroke-width="0.8"/>
<circle cx="85.1" cy="272.2" r="1.55" fill="white" stroke="#1e1e1e" stroke-width="0.8"/>
<circle cx="88.2" cy="274.4" r="1.55" fill="white" stroke="#1e1e1e" stroke-width="0.8"/>
<circle cx="90.4" cy="271.6" r="1.55" fill="white" stroke="#1e1e1e" stroke-width="0.8"/>
<line x1="88.1" y1="320.3" x2="88.1" y2="322.90000000000003" stroke="#1a1a1a" stroke-width="1"/>
<circle cx="99.1" cy="314.8" r="1.55" fill="#0d0d0d" stroke="none" stroke-width="0"/>
<circle cx="102.1" cy="312.8" r="1.55" fill="#0d0d0d" stroke="none" stroke-width="0"/>
<circle cx="105.3" cy="314.0" r="1.55" fill="#0d0d0d" stroke="none" stroke-width="0"/>
<circle cx="99.1" cy="269.3" r="1.55" fill="white" stroke="#1e1e1e" stroke-width="0.8"/>
<circle cx="102.2" cy="273.9" r="1.55" fill="white" stroke="#1e1e1e" stroke-width="0.8"/>
<circle cx="105.8" cy="270.9" r="1.55" fill="white" stroke="#1e1e1e" stroke-width="0.8"/>
<circle cx="104.0" cy="271.2" r="1.55" fill="white" stroke="#1e1e1e" stroke-width="0.8"/>
<line x1="102.5" y1="320.3" x2="102.5" y2="322.90000000000003" stroke="#1a1a1a" stroke-width="1"/>
<circle cx="113.6" cy="311.3" r="1.55" fill="#0d0d0d" stroke="none" stroke-width="0"/>
<circle cx="113.6" cy="315.8" r="1.55" fill="#0d0d0d" stroke="none" stroke-width="0"/>
<circle cx="119.9" cy="313.7" r="1.55" fill="#0d0d0d" stroke="none" stroke-width="0"/>
<circle cx="116.4" cy="267.6" r="1.55" fill="white" stroke="#1e1e1e" stroke-width="0.8"/>
<circle cx="113.5" cy="274.7" r="1.55" fill="white" stroke="#1e1e1e" stroke-width="0.8"/>
<circle cx="119.8" cy="272.6" r="1.55" fill="white" stroke="#1e1e1e" stroke-width="0.8"/>
<line x1="116.9" y1="320.3" x2="116.9" y2="322.90000000000003" stroke="#1a1a1a" stroke-width="1"/>
<circle cx="137.5" cy="293.5" r="1.55" fill="#0d0d0d" stroke="none" stroke-width="0"/>
<circle cx="140.2" cy="291.8" r="1.55" fill="#0d0d0d" stroke="none" stroke-width="0"/>
<circle cx="143.2" cy="293.0" r="1.55" fill="#0d0d0d" stroke="none" stroke-width="0"/>
<circle cx="137.1" cy="264.0" r="1.55" fill="white" stroke="#1e1e1e" stroke-width="0.8"/>
<circle cx="140.0" cy="262.4" r="1.55" fill="white" stroke="#1e1e1e" stroke-width="0.8"/>
<circle cx="143.9" cy="264.0" r="1.55" fill="white" stroke="#1e1e1e" stroke-width="0.8"/>
<line x1="140.5" y1="320.3" x2="140.5" y2="322.90000000000003" stroke="#1a1a1a" stroke-width="1"/>
<circle cx="151.8" cy="297.8" r="1.55" fill="#0d0d0d" stroke="none" stroke-width="0"/>
<circle cx="154.8" cy="292.4" r="1.55" fill="#0d0d0d" stroke="none" stroke-width="0"/>
<circle cx="158.0" cy="297.8" r="1.55" fill="#0d0d0d" stroke="none" stroke-width="0"/>
<circle cx="151.5" cy="264.5" r="1.55" fill="white" stroke="#1e1e1e" stroke-width="0.8"/>
<circle cx="154.7" cy="268.7" r="1.55" fill="white" stroke="#1e1e1e" stroke-width="0.8"/>
<circle cx="158.3" cy="264.5" r="1.55" fill="white" stroke="#1e1e1e" stroke-width="0.8"/>
<line x1="154.9" y1="320.3" x2="154.9" y2="322.90000000000003" stroke="#1a1a1a" stroke-width="1"/>
<circle cx="166.0" cy="297.8" r="1.55" fill="#0d0d0d" stroke="none" stroke-width="0"/>
<circle cx="169.2" cy="292.4" r="1.55" fill="#0d0d0d" stroke="none" stroke-width="0"/>
<circle cx="172.2" cy="297.8" r="1.55" fill="#0d0d0d" stroke="none" stroke-width="0"/>
<circle cx="165.9" cy="264.5" r="1.55" fill="white" stroke="#1e1e1e" stroke-width="0.8"/>
<circle cx="168.9" cy="268.3" r="1.55" fill="white" stroke="#1e1e1e" stroke-width="0.8"/>
<circle cx="172.3" cy="264.5" r="1.55" fill="white" stroke="#1e1e1e" stroke-width="0.8"/>
<line x1="168.9" y1="320.3" x2="168.9" y2="322.90000000000003" stroke="#1a1a1a" stroke-width="1"/>
<circle cx="180.4" cy="299.5" r="1.55" fill="#0d0d0d" stroke="none" stroke-width="0"/>
<circle cx="182.9" cy="297.3" r="1.55" fill="#0d0d0d" stroke="none" stroke-width="0"/>
<circle cx="186.0" cy="297.6" r="1.55" fill="#0d0d0d" stroke="none" stroke-width="0"/>
<circle cx="180.2" cy="266.3" r="1.55" fill="white" stroke="#1e1e1e" stroke-width="0.8"/>
<circle cx="183.3" cy="267.3" r="1.55" fill="white" stroke="#1e1e1e" stroke-width="0.8"/>
<circle cx="187.2" cy="266.7" r="1.55" fill="white" stroke="#1e1e1e" stroke-width="0.8"/>
<line x1="183.3" y1="320.3" x2="183.3" y2="322.90000000000003" stroke="#1a1a1a" stroke-width="1"/>
<circle cx="195.2" cy="299.0" r="1.55" fill="#0d0d0d" stroke="none" stroke-width="0"/>
<circle cx="197.7" cy="297.3" r="1.55" fill="#0d0d0d" stroke="none" stroke-width="0"/>
<circle cx="201.0" cy="298.0" r="1.55" fill="#0d0d0d" stroke="none" stroke-width="0"/>
<circle cx="194.4" cy="270.5" r="1.55" fill="white" stroke="#1e1e1e" stroke-width="0.8"/>
<circle cx="197.9" cy="271.9" r="1.55" fill="white" stroke="#1e1e1e" stroke-width="0.8"/>
<circle cx="201.4" cy="269.1" r="1.55" fill="white" stroke="#1e1e1e" stroke-width="0.8"/>
<line x1="197.7" y1="320.3" x2="197.7" y2="322.90000000000003" stroke="#1a1a1a" stroke-width="1"/>
<text x="59.4" y="333.2" font-size="9.0" text-anchor="middle" fill="#2e2e2e" color="#2e2e2e" font-weight="normal" textLength="4.3" lengthAdjust="spacingAndGlyphs">0</text>
<text x="73.6" y="333.2" font-size="9.0" text-anchor="middle" fill="#2e2e2e" color="#2e2e2e" font-weight="normal" textLength="4.3" lengthAdjust="spacingAndGlyphs">6</text>
<text x="87.6" y="333.2" font-size="9.0" text-anchor="middle" fill="#2e2e2e" color="#2e2e2e" font-weight="normal" textLength="8.61" lengthAdjust="spacingAndGlyphs">12</text>
<text x="102.0" y="333.2" font-size="9.0" text-anchor="middle" fill="#2e2e2e" color="#2e2e2e" font-weight="normal" textLength="8.61" lengthAdjust="spacingAndGlyphs">24</text>
<text x="116.6" y="333.2" font-size="9.0" text-anchor="middle" fill="#2e2e2e" color="#2e2e2e" font-weight="normal" textLength="8.61" lengthAdjust="spacingAndGlyphs">48</text>
<text x="140.5" y="333.2" font-size="9.0" text-anchor="middle" fill="#2e2e2e" color="#2e2e2e" font-weight="normal" textLength="4.3" lengthAdjust="spacingAndGlyphs">0</text>
<text x="154.8" y="333.2" font-size="9.0" text-anchor="middle" fill="#2e2e2e" color="#2e2e2e" font-weight="normal" textLength="4.3" lengthAdjust="spacingAndGlyphs">6</text>
<text x="168.9" y="333.2" font-size="9.0" text-anchor="middle" fill="#2e2e2e" color="#2e2e2e" font-weight="normal" textLength="8.61" lengthAdjust="spacingAndGlyphs">12</text>
<text x="183.2" y="333.2" font-size="9.0" text-anchor="middle" fill="#2e2e2e" color="#2e2e2e" font-weight="normal" textLength="8.61" lengthAdjust="spacingAndGlyphs">24</text>
<text x="197.6" y="333.2" font-size="9.0" text-anchor="middle" fill="#2e2e2e" color="#2e2e2e" font-weight="normal" textLength="8.61" lengthAdjust="spacingAndGlyphs">48</text>
<line x1="55.5" y1="338.0" x2="121.7" y2="338.0" stroke="#8a8a8a" stroke-width="1.6"/>
<line x1="136.0" y1="338.0" x2="203.0" y2="338.0" stroke="#8a8a8a" stroke-width="1.6"/>
<text x="84.5" y="349.0" font-size="8.4" text-anchor="middle" fill="#2e2e2e" color="#2e2e2e" font-weight="normal" textLength="46.6" lengthAdjust="spacingAndGlyphs">250 <tspan font-size="80%">×</tspan> 10<tspan baseline-shift="super" font-size="62%">6</tspan> mL<tspan baseline-shift="super" font-size="62%">&#8722;1</tspan></text>
<text x="169.0" y="349.0" font-size="8.4" text-anchor="middle" fill="#2e2e2e" color="#2e2e2e" font-weight="normal" textLength="46.6" lengthAdjust="spacingAndGlyphs">800 <tspan font-size="80%">×</tspan> 10<tspan baseline-shift="super" font-size="62%">6</tspan> mL<tspan baseline-shift="super" font-size="62%">&#8722;1</tspan></text>
<text x="129.0" y="366.7" font-size="10.4" text-anchor="middle" fill="#2e2e2e" color="#2e2e2e" font-weight="normal" textLength="74.7" lengthAdjust="spacingAndGlyphs">Dose mRNA (μg mL<tspan baseline-shift="super" font-size="62%">&#8722;1</tspan>)</text>
<text x="18.8" y="265.4" font-size="8.4" text-anchor="middle" fill="#2e2e2e" color="#2e2e2e" font-weight="normal" textLength="71.8" lengthAdjust="spacingAndGlyphs" transform="rotate(-90 18.8 265.4)">CD62P<tspan baseline-shift="super" font-size="62%">+</tspan> platelets (%)</text>
<circle cx="63.8" cy="223.3" r="1.9" fill="#0d0d0d" stroke="none" stroke-width="0"/>
<text x="69.6" y="226.3" font-size="8.3" text-anchor="start" fill="#2e2e2e" color="#2e2e2e" font-weight="normal" textLength="40.0" lengthAdjust="spacingAndGlyphs">Unactivated</text>
<circle cx="63.8" cy="234.6" r="1.75" fill="white" stroke="#1e1e1e" stroke-width="0.75"/>
<text x="69.6" y="237.2" font-size="8.3" text-anchor="start" fill="#2e2e2e" color="#2e2e2e" font-weight="normal" textLength="13.5" lengthAdjust="spacingAndGlyphs">ADP</text>
</svg>
<div style="position:absolute;left:0;top:0;width:520px;height:1.2px;background:#555"></div>
<div style="position:absolute;left:0;top:0;width:1.2px;height:375px;background:#4a4a4a"></div>
<div style="position:absolute;left:0;top:373.6px;width:520px;height:1.4px;background:#4a4a4a"></div>
<div style="position:absolute;left:518.2px;top:0;width:1.8px;height:375px;background:#4a4a4a"></div>
</body></html>
